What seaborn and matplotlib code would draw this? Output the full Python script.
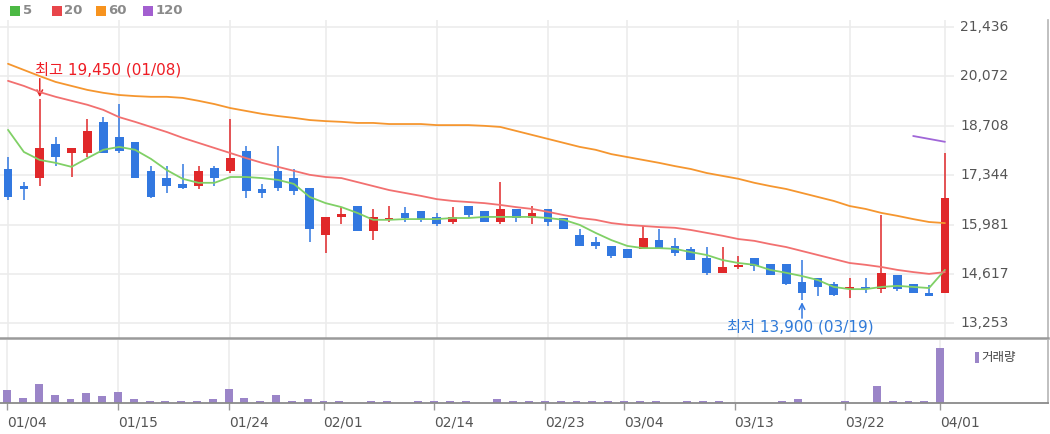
import matplotlib
matplotlib.use("Agg")
import matplotlib.pyplot as plt
from matplotlib.patches import Rectangle
import numpy as np
import pandas as pd
import seaborn as sns

# daily candles, 2019-01-04 .. 2019-04-01 (60 sessions)
opens = [17500, 17050, 17250, 18200, 17950, 17950, 18800, 18400, 18250, 17450,
         17250, 17100, 17050, 17550, 17450, 18000, 16950, 17450, 17250, 17000,
         15700, 16200, 16500, 15800, 16100, 16300, 16350, 16200, 16050, 16500,
         16350, 16050, 16400, 16150, 16400, 16150, 15700, 15500, 15400, 15300,
         15300, 15550, 15400, 15300, 15050, 14650, 14800, 15050, 14900, 14900,
         14400, 14500, 14350, 14200, 14250, 14200, 14600, 14350, 14100, 14100]
highs = [17850, 17150, 19450, 18400, 18100, 18900, 18950, 19300, 18250, 17600,
         17600, 17650, 17600, 17600, 18900, 18150, 17100, 18150, 17500, 17000,
         16200, 16450, 16500, 16400, 16500, 16450, 16350, 16300, 16450, 16500,
         16350, 17150, 16400, 16500, 16400, 16150, 15850, 15650, 15400, 15300,
         15950, 15850, 15600, 15350, 15350, 15350, 15100, 15050, 14900, 14900,
         15000, 14500, 14400, 14500, 14500, 16250, 14600, 14350, 14300, 17950]
lows = [16650, 16650, 17050, 17600, 17300, 17850, 17950, 17950, 17250, 16700,
        16850, 16950, 16950, 17050, 17400, 16700, 16700, 16900, 16800, 15500,
        15200, 16000, 15800, 15550, 16050, 16050, 16050, 15950, 16000, 16150,
        16050, 16000, 16050, 16000, 15950, 15850, 15400, 15300, 15050, 15050,
        15300, 15300, 15100, 15000, 14600, 14650, 14750, 14700, 14600, 14300,
        13900, 14000, 14000, 13950, 14100, 14100, 14150, 14100, 14000, 14100]
closes = [16750, 16950, 18100, 17850, 18100, 18550, 17950, 18000, 17250, 16750,
          17050, 17000, 17450, 17250, 17800, 16900, 16850, 17000, 16900, 15850,
          16200, 16250, 15800, 16200, 16150, 16150, 16100, 16000, 16200, 16250,
          16050, 16400, 16150, 16300, 16050, 15850, 15400, 15400, 15100, 15050,
          15600, 15300, 15200, 15000, 14650, 14800, 14850, 14850, 14600, 14350,
          14100, 14250, 14050, 14250, 14200, 14650, 14200, 14100, 14000, 16700]

ma5 = [18590, 17980, 17760, 17680, 17570, 17810, 18040, 18120, 18040, 17790,
       17480, 17240, 17130, 17130, 17290, 17290, 17260, 17210, 17100, 16740,
       16570, 16460, 16300, 16110, 16110, 16130, 16130, 16130, 16160, 16160,
       16190, 16190, 16190, 16190, 16160, 16110, 15970, 15750, 15550, 15390,
       15330, 15330, 15310, 15220, 15140, 15000, 14920, 14870, 14730, 14650,
       14560, 14450, 14260, 14200, 14200, 14260, 14290, 14260, 14230, 14730]
ma20 = [19940, 19800, 19630, 19500, 19390, 19280, 19140, 18940, 18810, 18670,
        18530, 18370, 18230, 18090, 17950, 17810, 17680, 17570, 17460, 17350,
        17290, 17260, 17150, 17040, 16930, 16850, 16770, 16680, 16630, 16600,
        16570, 16520, 16460, 16410, 16330, 16240, 16160, 16110, 16020, 15970,
        15940, 15910, 15890, 15830, 15750, 15670, 15580, 15530, 15440, 15360,
        15250, 15140, 15030, 14920, 14870, 14810, 14730, 14670, 14620, 14670]
ma60 = [20410, 20240, 20070, 19910, 19800, 19690, 19610, 19550, 19520, 19500,
        19500, 19470, 19390, 19300, 19190, 19110, 19030, 18970, 18920, 18860,
        18830, 18810, 18780, 18780, 18750, 18750, 18750, 18720, 18720, 18720,
        18700, 18670, 18560, 18450, 18340, 18230, 18120, 18040, 17920, 17840,
        17760, 17680, 17590, 17510, 17400, 17320, 17240, 17130, 17040, 16960,
        16850, 16740, 16630, 16490, 16410, 16300, 16220, 16130, 16050, 16020]
ma120 = [None] * 57 + [18420, 18340, 18260]

# volume, thousand shares
volume = [254, 100, 380, 166, 74, 194, 134, 220, 74, 40,
          40, 40, 40, 74, 286, 100, 40, 160, 40, 74,
          40, 40, 10, 40, 40, 10, 40, 40, 40, 40,
          10, 74, 40, 40, 40, 40, 40, 40, 40, 40,
          40, 40, 10, 40, 40, 40, 10, 10, 10, 40,
          80, 10, 10, 40, 10, 340, 40, 40, 40, 1100]

tick_idx = [0, 7, 14, 20, 27, 34, 39, 46, 53, 59]
tick_labels = ["01/04", "01/15", "01/24", "02/01", "02/14", "02/23", "03/04", "03/13", "03/22", "04/01"]
price_levels = [13253, 14617, 15981, 17344, 18708, 20072, 21436]

df = pd.DataFrame({"open": opens, "high": highs, "low": lows, "close": closes,
                   "ma5": ma5, "ma20": ma20, "ma60": ma60,
                   "ma120": pd.array(ma120, dtype="Float64").astype(float),
                   "volume": volume})
df["i"] = np.arange(len(df))

RED = "#e0282a"
BLUE = "#3278e0"
GRID = "#ececec"

sns.set_style("white")
plt.rcParams["font.family"] = ["DejaVu Sans", "Noto Sans CJK KR"]

W, H = 1050, 434
fig = plt.figure(figsize=(W / 100, H / 100), dpi=100)

ax = fig.add_axes([0, 1 - 338 / H, 1048 / W, 318 / H])
vax = fig.add_axes([0, 1 - 403 / H, 1048 / W, 63 / H])

# --- price panel ---
ax.set_xlim(-0.504, 65.49)
ax.set_ylim(12853, 21617)
for t in tick_idx:
    ax.axvline(t, color=GRID, lw=1.2, zorder=0)
ax.hlines(price_levels, -0.6, 59.6, color=GRID, lw=1.2, zorder=0)

up = df.close >= df.open
col = np.where(up, RED, BLUE)
ax.vlines(df.i, df.low, df.high, colors=col, lw=1.1, zorder=2)
body_lo = np.minimum(df.open, df.close)
body_h = np.maximum((df.close - df.open).abs(), 60)
ax.bar(df.i, body_h, bottom=body_lo, width=0.55, color=col, zorder=3, linewidth=0)

sns.lineplot(data=df, x="i", y="ma5", ax=ax, color="#80d066", lw=1.3, zorder=4)
sns.lineplot(data=df, x="i", y="ma20", ax=ax, color="#f27070", lw=1.3, zorder=4)
sns.lineplot(data=df, x="i", y="ma60", ax=ax, color="#f5962f", lw=1.3, zorder=4)
sns.lineplot(data=df.dropna(subset=["ma120"]), x="i", y="ma120", ax=ax, color="#a066d8", lw=1.3, zorder=4)

for p in price_levels:
    ax.text(59.95, p, f"{p:,}", fontsize=10, color="#555555", va="center", ha="left")

hi = int(np.argmax(highs))
lo = int(np.argmin(lows))
ax.annotate("", xy=(hi, highs[hi] + 40), xytext=(hi, 20000),
            arrowprops=dict(arrowstyle="->", color=RED, lw=1.1, shrinkA=0, shrinkB=0))
ax.text(1.7, 20240, f"최고 {highs[hi]:,} (01/08)", color="#ee1c24",
        fontsize=11, va="center", ha="left")
ax.annotate("", xy=(lo, lows[lo] - 60), xytext=(lo, 13400),
            arrowprops=dict(arrowstyle="->", color=BLUE, lw=1.1, shrinkA=0, shrinkB=0))
ax.text(45.3, 13157, f"최저 {lows[lo]:,} (03/19)", color="#2f7ad8",
        fontsize=11, va="center", ha="left")

ax.set_xticks([])
ax.set_yticks([])
ax.set_xlabel("")
ax.set_ylabel("")
for s in ["top", "left"]:
    ax.spines[s].set_visible(False)
ax.spines["bottom"].set_color("#9a9a9a")
ax.spines["bottom"].set_linewidth(1.8)
ax.spines["right"].set_color("#b5b5b5")
ax.spines["right"].set_linewidth(1.2)

# --- volume panel ---
vax.set_xlim(-0.46, 65.82)
vax.set_ylim(0, 1260)
for t in tick_idx:
    vax.axvline(t, color=GRID, lw=1.2, zorder=0)
vax.bar(df.i, df.volume, width=0.5, color="#9b85c8", linewidth=0, zorder=2)
vax.set_xticks(tick_idx)
vax.set_xticklabels(tick_labels, ha="left")
vax.tick_params(axis="x", length=5, width=1, color="#999999", labelcolor="#555555",
                labelsize=10, pad=4, bottom=True)
vax.set_yticks([])
vax.set_xlabel("")
vax.set_ylabel("")
for s in ["top", "left"]:
    vax.spines[s].set_visible(False)
vax.spines["bottom"].set_color("#8a8a8a")
vax.spines["bottom"].set_linewidth(1.3)
vax.spines["right"].set_color("#b5b5b5")
vax.spines["right"].set_linewidth(1.2)

# volume legend
fig.add_artist(Rectangle((975 / W, 1 - 363 / H), 4 / W, 11 / H, transform=fig.transFigure,
                         color="#9b85c8", lw=0))
fig.text(981 / W, 1 - 357 / H, "거래량", fontsize=9, color="#444444", va="center", ha="left")

# MA legend
legend_items = [("5", "#4cb944", 10, 23), ("20", "#e8454a", 52, 64),
                ("60", "#f7931e", 96, 108), ("120", "#a35fd0", 143, 156)]
for lab, c, sx, tx in legend_items:
    fig.add_artist(Rectangle((sx / W, 1 - 16 / H), 10 / W, 10 / H, transform=fig.transFigure,
                             color=c, lw=0))
    fig.text(tx / W, 1 - 11 / H, lab, fontsize=9.5, fontweight="bold", color="#8a8a8a",
             va="center", ha="left")

fig.savefig("out.png", dpi=100)
